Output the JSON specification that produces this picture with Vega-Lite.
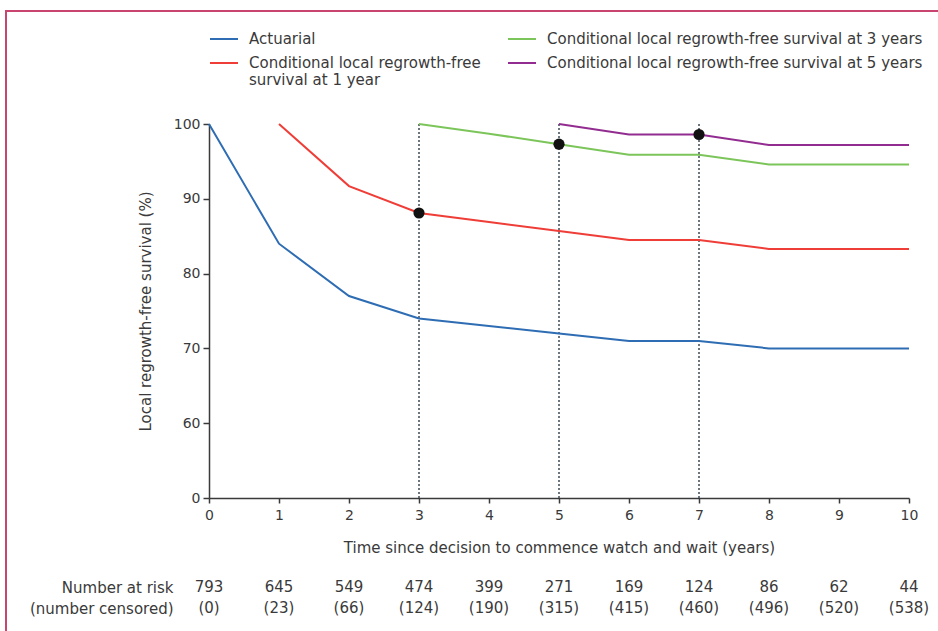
{
  "$schema": "https://vega.github.io/schema/vega-lite/v6.json",
  "padding": {"left": 5, "top": 10, "right": 0, "bottom": 0},
  "background": "white",
  "config": {
    "font": "DejaVu Sans",
    "view": {"stroke": null},
    "axis": {"labelColor": "#3a3a3a", "titleColor": "#3a3a3a", "domainColor": "#3a3a3a", "tickColor": "#3a3a3a", "grid": false, "labelFont": "DejaVu Sans", "titleFont": "DejaVu Sans", "titleFontWeight": "normal"},
    "legend": {"labelColor": "#3a3a3a", "labelFont": "DejaVu Sans"},
    "text": {"font": "DejaVu Sans"}
  },
  "bounds": "flush",
  "spacing": 89,
  "vconcat": [
    {
      "width": 700,
      "height": 374,
      "layer": [
        {
          "data": {"values": [{"frame": "border"}]},
          "mark": {"type": "rect", "filled": false, "stroke": "#c9446f", "strokeWidth": 2, "clip": false},
          "encoding": {
            "x": {"datum": -2.9, "type": "quantitative", "scale": {"domain": [0, 10]}},
            "x2": {"datum": 10.9},
            "y": {"datum": 115.1, "type": "quantitative", "scale": {"domain": [50, 100], "zero": false}},
            "y2": {"datum": 25}
          }
        },
        {
          "data": {"values": [{"year": 3}, {"year": 5}, {"year": 7}]},
          "mark": {"type": "rule", "strokeDash": [2, 2], "color": "#3d4a55", "strokeWidth": 1.5},
          "encoding": {
            "x": {"field": "year", "type": "quantitative", "scale": {"domain": [0, 10]}},
            "y": {"datum": 100, "type": "quantitative", "scale": {"domain": [50, 100], "zero": false}},
            "y2": {"datum": 50}
          }
        },
        {
          "data": {"values": [
            {"series": "Actuarial", "year": 0, "surv": 100},
            {"series": "Actuarial", "year": 1, "surv": 84},
            {"series": "Actuarial", "year": 2, "surv": 77},
            {"series": "Actuarial", "year": 3, "surv": 74},
            {"series": "Actuarial", "year": 4, "surv": 73},
            {"series": "Actuarial", "year": 5, "surv": 72},
            {"series": "Actuarial", "year": 6, "surv": 71},
            {"series": "Actuarial", "year": 7, "surv": 71},
            {"series": "Actuarial", "year": 8, "surv": 70},
            {"series": "Actuarial", "year": 9, "surv": 70},
            {"series": "Actuarial", "year": 10, "surv": 70},
            {"series": "Conditional local regrowth-free survival at 1 year", "year": 1, "surv": 100},
            {"series": "Conditional local regrowth-free survival at 1 year", "year": 2, "surv": 91.7},
            {"series": "Conditional local regrowth-free survival at 1 year", "year": 3, "surv": 88.1},
            {"series": "Conditional local regrowth-free survival at 1 year", "year": 4, "surv": 86.9},
            {"series": "Conditional local regrowth-free survival at 1 year", "year": 5, "surv": 85.7},
            {"series": "Conditional local regrowth-free survival at 1 year", "year": 6, "surv": 84.5},
            {"series": "Conditional local regrowth-free survival at 1 year", "year": 7, "surv": 84.5},
            {"series": "Conditional local regrowth-free survival at 1 year", "year": 8, "surv": 83.3},
            {"series": "Conditional local regrowth-free survival at 1 year", "year": 9, "surv": 83.3},
            {"series": "Conditional local regrowth-free survival at 1 year", "year": 10, "surv": 83.3},
            {"series": "Conditional local regrowth-free survival at 3 years", "year": 3, "surv": 100},
            {"series": "Conditional local regrowth-free survival at 3 years", "year": 4, "surv": 98.7},
            {"series": "Conditional local regrowth-free survival at 3 years", "year": 5, "surv": 97.3},
            {"series": "Conditional local regrowth-free survival at 3 years", "year": 6, "surv": 95.9},
            {"series": "Conditional local regrowth-free survival at 3 years", "year": 7, "surv": 95.9},
            {"series": "Conditional local regrowth-free survival at 3 years", "year": 8, "surv": 94.6},
            {"series": "Conditional local regrowth-free survival at 3 years", "year": 9, "surv": 94.6},
            {"series": "Conditional local regrowth-free survival at 3 years", "year": 10, "surv": 94.6},
            {"series": "Conditional local regrowth-free survival at 5 years", "year": 5, "surv": 100},
            {"series": "Conditional local regrowth-free survival at 5 years", "year": 6, "surv": 98.6},
            {"series": "Conditional local regrowth-free survival at 5 years", "year": 7, "surv": 98.6},
            {"series": "Conditional local regrowth-free survival at 5 years", "year": 8, "surv": 97.2},
            {"series": "Conditional local regrowth-free survival at 5 years", "year": 9, "surv": 97.2},
            {"series": "Conditional local regrowth-free survival at 5 years", "year": 10, "surv": 97.2}
          ]},
          "mark": {"type": "line", "strokeWidth": 2},
          "encoding": {
            "x": {"field": "year", "type": "quantitative", "scale": {"domain": [0, 10]},
                  "axis": {"values": [0,1,2,3,4,5,6,7,8,9,10], "format": "d", "labelFlush": false, "title": "Time since decision to commence watch and wait (years)", "titleFontSize": 15, "titlePadding": 18, "labelFontSize": 14, "tickSize": 5, "labelPadding": 5, "domainWidth": 1.5, "tickWidth": 1.5}},
            "y": {"field": "surv", "type": "quantitative", "scale": {"domain": [50, 100], "zero": false},
                  "axis": {"values": [50,60,70,80,90,100], "labelFlush": false, "labelExpr": "datum.value == 50 ? '0' : datum.label", "title": "Local regrowth-free survival (%)", "titleFontSize": 15, "titlePadding": 20, "labelFontSize": 14, "tickSize": 6, "labelPadding": 3, "domainWidth": 1.5, "tickWidth": 1.5}},
            "color": {"field": "series", "type": "nominal",
                      "scale": {"domain": ["Actuarial", "Conditional local regrowth-free survival at 1 year", "Conditional local regrowth-free survival at 3 years", "Conditional local regrowth-free survival at 5 years"],
                                "range": ["#2e6db3", "#ef3d37", "#7cc55a", "#922c90"]},
                      "legend": {"orient": "none", "legendX": 0, "legendY": -100, "columns": 2, "columnPadding": 23, "rowPadding": 1, "title": null, "symbolType": "stroke", "symbolSize": 784, "symbolStrokeWidth": 2, "labelFontSize": 15, "labelOffset": 10, "labelLimit": 500, "padding": 0,
                                 "labelExpr": "datum.label == 'Conditional local regrowth-free survival at 1 year' ? ['Conditional local regrowth-free', 'survival at 1 year'] : datum.label == 'Conditional local regrowth-free survival at 5 years' ? [datum.label, ''] : datum.label"}}
          }
        },
        {
          "data": {"values": [
            {"year": 3, "surv": 88.1},
            {"year": 5, "surv": 97.3},
            {"year": 7, "surv": 98.6}
          ]},
          "mark": {"type": "point", "filled": true, "color": "#111111", "size": 125, "opacity": 1},
          "encoding": {
            "x": {"field": "year", "type": "quantitative", "scale": {"domain": [0, 10]}},
            "y": {"field": "surv", "type": "quantitative", "scale": {"domain": [50, 100], "zero": false}}
          }
        }
      ]
    },
    {
      "width": 700,
      "height": 21,
      "data": {"values": [
        {"year": 0, "row": "Number at risk", "value": "793"},
        {"year": 1, "row": "Number at risk", "value": "645"},
        {"year": 2, "row": "Number at risk", "value": "549"},
        {"year": 3, "row": "Number at risk", "value": "474"},
        {"year": 4, "row": "Number at risk", "value": "399"},
        {"year": 5, "row": "Number at risk", "value": "271"},
        {"year": 6, "row": "Number at risk", "value": "169"},
        {"year": 7, "row": "Number at risk", "value": "124"},
        {"year": 8, "row": "Number at risk", "value": "86"},
        {"year": 9, "row": "Number at risk", "value": "62"},
        {"year": 10, "row": "Number at risk", "value": "44"},
        {"year": 0, "row": "(number censored)", "value": "(0)"},
        {"year": 1, "row": "(number censored)", "value": "(23)"},
        {"year": 2, "row": "(number censored)", "value": "(66)"},
        {"year": 3, "row": "(number censored)", "value": "(124)"},
        {"year": 4, "row": "(number censored)", "value": "(190)"},
        {"year": 5, "row": "(number censored)", "value": "(315)"},
        {"year": 6, "row": "(number censored)", "value": "(415)"},
        {"year": 7, "row": "(number censored)", "value": "(460)"},
        {"year": 8, "row": "(number censored)", "value": "(496)"},
        {"year": 9, "row": "(number censored)", "value": "(520)"},
        {"year": 10, "row": "(number censored)", "value": "(538)"}
      ]},
      "mark": {"type": "text", "fontSize": 15, "color": "#3a3a3a", "align": "center", "baseline": "middle"},
      "encoding": {
        "x": {"field": "year", "type": "quantitative", "scale": {"domain": [0, 10]}, "axis": null},
        "y": {"field": "row", "type": "nominal", "sort": ["Number at risk", "(number censored)"], "scale": {"type": "point", "padding": 0},
              "axis": {"title": null, "domain": false, "ticks": false, "labelFontSize": 15, "labelPadding": 36, "labelColor": "#3a3a3a"}},
        "text": {"field": "value"}
      }
    }
  ]
}
